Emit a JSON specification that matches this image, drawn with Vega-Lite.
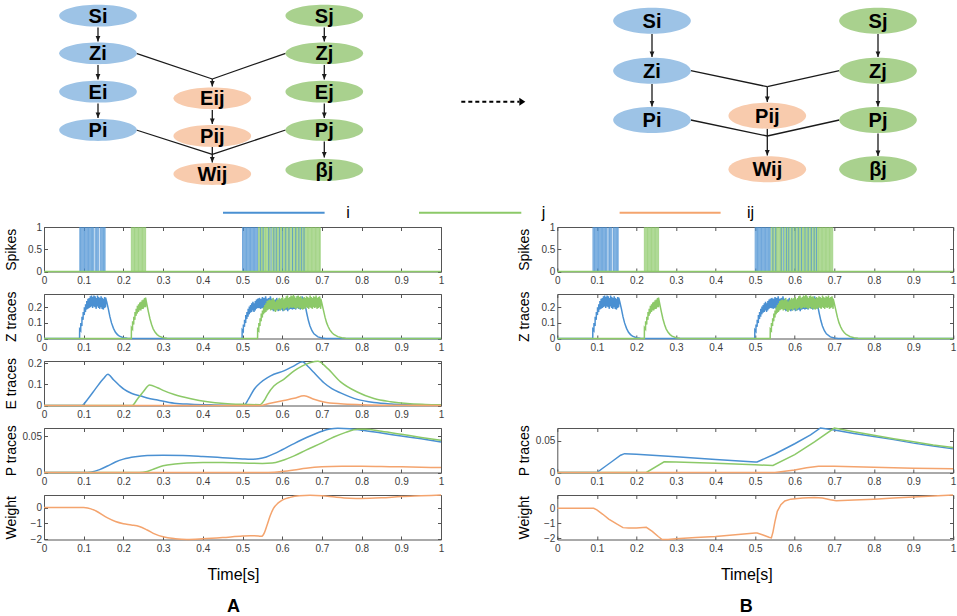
{
"$schema": "https://vega.github.io/schema/vega-lite/v6.json",
"padding": {"left": 3, "top": 0, "right": 0, "bottom": 0},
"columns": 2,
"bounds": "flush",
"spacing": {"row": 22, "column": 116.3},
"resolve": {"scale": {"color": "independent", "fill": "independent", "x": "independent", "y": "independent"}},
"config": {
  "font": "Liberation Sans",
  "view": {"stroke": "#555555", "strokeWidth": 1},
  "axis": {"domain": false, "grid": false, "tickSize": -3.5, "tickColor": "#555555", "tickWidth": 1, "labelFont": "Liberation Sans", "labelFontSize": 10, "labelColor": "#3c3c3c", "labelFlush": false, "labelOverlap": false, "titleFont": "Liberation Sans", "titleFontWeight": "normal", "titleColor": "#000000"},
  "axisLeft": {"labelPadding": 6, "titleFontSize": 14, "titleAngle": 270, "titleX": -39.7, "titleY": 22.25, "titleBaseline": "top", "titleAlign": "center"},
  "axisBottom": {"labelPadding": 7, "titleFontSize": 16, "titleX": 189, "titleY": 35, "titleBaseline": "middle", "titleAlign": "center"}
},
"datasets": {
  "spk": [
    {"t":0.220,"n":"j"},{"t":0.222,"n":"j"},{"t":0.224,"n":"j"},{"t":0.226,"n":"j"},{"t":0.228,"n":"j"},{"t":0.230,"n":"j"},{"t":0.232,"n":"j"},{"t":0.234,"n":"j"},{"t":0.236,"n":"j"},{"t":0.238,"n":"j"},{"t":0.240,"n":"j"},{"t":0.242,"n":"j"},{"t":0.244,"n":"j"},{"t":0.246,"n":"j"},{"t":0.248,"n":"j"},{"t":0.250,"n":"j"},{"t":0.252,"n":"j"},{"t":0.254,"n":"j"},{"t":0.256,"n":"j"},
    {"t":0.540,"n":"j"},{"t":0.542,"n":"j"},{"t":0.544,"n":"j"},{"t":0.546,"n":"j"},{"t":0.548,"n":"j"},{"t":0.550,"n":"j"},{"t":0.552,"n":"j"},{"t":0.554,"n":"j"},{"t":0.556,"n":"j"},{"t":0.558,"n":"j"},{"t":0.560,"n":"j"},{"t":0.562,"n":"j"},{"t":0.564,"n":"j"},{"t":0.566,"n":"j"},{"t":0.568,"n":"j"},{"t":0.570,"n":"j"},{"t":0.574,"n":"j"},{"t":0.576,"n":"j"},{"t":0.578,"n":"j"},{"t":0.580,"n":"j"},{"t":0.582,"n":"j"},{"t":0.584,"n":"j"},{"t":0.586,"n":"j"},{"t":0.588,"n":"j"},{"t":0.590,"n":"j"},{"t":0.592,"n":"j"},{"t":0.594,"n":"j"},{"t":0.596,"n":"j"},{"t":0.598,"n":"j"},{"t":0.600,"n":"j"},{"t":0.602,"n":"j"},{"t":0.604,"n":"j"},{"t":0.606,"n":"j"},{"t":0.608,"n":"j"},{"t":0.610,"n":"j"},{"t":0.612,"n":"j"},{"t":0.614,"n":"j"},{"t":0.616,"n":"j"},{"t":0.618,"n":"j"},{"t":0.620,"n":"j"},{"t":0.622,"n":"j"},{"t":0.624,"n":"j"},{"t":0.626,"n":"j"},{"t":0.628,"n":"j"},{"t":0.630,"n":"j"},{"t":0.632,"n":"j"},{"t":0.634,"n":"j"},{"t":0.636,"n":"j"},{"t":0.638,"n":"j"},{"t":0.640,"n":"j"},{"t":0.642,"n":"j"},{"t":0.644,"n":"j"},{"t":0.646,"n":"j"},{"t":0.648,"n":"j"},{"t":0.650,"n":"j"},{"t":0.652,"n":"j"},{"t":0.654,"n":"j"},{"t":0.656,"n":"j"},{"t":0.658,"n":"j"},{"t":0.660,"n":"j"},{"t":0.662,"n":"j"},{"t":0.664,"n":"j"},{"t":0.666,"n":"j"},{"t":0.668,"n":"j"},{"t":0.670,"n":"j"},{"t":0.672,"n":"j"},{"t":0.674,"n":"j"},{"t":0.676,"n":"j"},{"t":0.678,"n":"j"},{"t":0.680,"n":"j"},{"t":0.682,"n":"j"},{"t":0.684,"n":"j"},{"t":0.686,"n":"j"},{"t":0.688,"n":"j"},{"t":0.690,"n":"j"},{"t":0.692,"n":"j"},{"t":0.694,"n":"j"},{"t":0.696,"n":"j"},
    {"t":0.090,"n":"i"},{"t":0.092,"n":"i"},{"t":0.094,"n":"i"},{"t":0.096,"n":"i"},{"t":0.098,"n":"i"},{"t":0.100,"n":"i"},{"t":0.102,"n":"i"},{"t":0.104,"n":"i"},{"t":0.106,"n":"i"},{"t":0.108,"n":"i"},{"t":0.110,"n":"i"},{"t":0.112,"n":"i"},{"t":0.114,"n":"i"},{"t":0.116,"n":"i"},{"t":0.118,"n":"i"},{"t":0.120,"n":"i"},{"t":0.122,"n":"i"},{"t":0.124,"n":"i"},{"t":0.126,"n":"i"},{"t":0.130,"n":"i"},{"t":0.132,"n":"i"},{"t":0.134,"n":"i"},{"t":0.136,"n":"i"},{"t":0.138,"n":"i"},{"t":0.142,"n":"i"},{"t":0.144,"n":"i"},{"t":0.146,"n":"i"},{"t":0.148,"n":"i"},{"t":0.150,"n":"i"},{"t":0.152,"n":"i"},{"t":0.154,"n":"i"},
    {"t":0.500,"n":"i"},{"t":0.502,"n":"i"},{"t":0.504,"n":"i"},{"t":0.506,"n":"i"},{"t":0.508,"n":"i"},{"t":0.510,"n":"i"},{"t":0.512,"n":"i"},{"t":0.514,"n":"i"},{"t":0.516,"n":"i"},{"t":0.518,"n":"i"},{"t":0.520,"n":"i"},{"t":0.522,"n":"i"},{"t":0.524,"n":"i"},{"t":0.526,"n":"i"},{"t":0.528,"n":"i"},{"t":0.530,"n":"i"},{"t":0.532,"n":"i"},{"t":0.534,"n":"i"},{"t":0.536,"n":"i"},{"t":0.538,"n":"i"},{"t":0.545,"n":"i"},{"t":0.552,"n":"i"},{"t":0.566,"n":"i"},{"t":0.572,"n":"i"},{"t":0.579,"n":"i"},{"t":0.585,"n":"i"},{"t":0.593,"n":"i"},{"t":0.601,"n":"i"},{"t":0.609,"n":"i"},{"t":0.617,"n":"i"},{"t":0.626,"n":"i"},{"t":0.634,"n":"i"},{"t":0.642,"n":"i"},{"t":0.649,"n":"i"},{"t":0.655,"n":"i"}
  ],
  "z": [
    {"t":0,"v":0,"n":"i"},{"t":0.0894,"v":0,"n":"i"},
    {"t":0.0896,"v":0,"n":"i"},{"t":0.0898,"v":0.06,"n":"i"},
    {"t":0.0925,"v":0.05,"n":"i"},{"t":0.0927,"v":0.10,"n":"i"},
    {"t":0.0955,"v":0.08,"n":"i"},{"t":0.0957,"v":0.14,"n":"i"},
    {"t":0.0985,"v":0.12,"n":"i"},{"t":0.0987,"v":0.17,"n":"i"},
    {"t":0.1015,"v":0.15,"n":"i"},{"t":0.1017,"v":0.20,"n":"i"},
    {"t":0.1045,"v":0.17,"n":"i"},{"t":0.1047,"v":0.22,"n":"i"},
    {"t":0.1075,"v":0.185,"n":"i"},{"t":0.1077,"v":0.24,"n":"i"},
    {"t":0.1105,"v":0.19,"n":"i"},{"t":0.1107,"v":0.255,"n":"i"},
    {"t":0.1135,"v":0.195,"n":"i"},{"t":0.1137,"v":0.26,"n":"i"},
    {"t":0.1165,"v":0.2,"n":"i"},{"t":0.1167,"v":0.27,"n":"i"},
    {"t":0.1195,"v":0.205,"n":"i"},{"t":0.1197,"v":0.275,"n":"i"},
    {"t":0.1225,"v":0.195,"n":"i"},{"t":0.1227,"v":0.265,"n":"i"},
    {"t":0.1255,"v":0.205,"n":"i"},{"t":0.1257,"v":0.275,"n":"i"},
    {"t":0.1285,"v":0.2,"n":"i"},{"t":0.1287,"v":0.27,"n":"i"},
    {"t":0.1315,"v":0.19,"n":"i"},{"t":0.1317,"v":0.26,"n":"i"},
    {"t":0.1345,"v":0.205,"n":"i"},{"t":0.1347,"v":0.275,"n":"i"},
    {"t":0.1375,"v":0.195,"n":"i"},{"t":0.1377,"v":0.265,"n":"i"},
    {"t":0.1405,"v":0.19,"n":"i"},{"t":0.1407,"v":0.26,"n":"i"},
    {"t":0.1435,"v":0.2,"n":"i"},{"t":0.1437,"v":0.27,"n":"i"},
    {"t":0.1465,"v":0.19,"n":"i"},{"t":0.1467,"v":0.26,"n":"i"},
    {"t":0.1495,"v":0.185,"n":"i"},{"t":0.1497,"v":0.255,"n":"i"},
    {"t":0.1525,"v":0.195,"n":"i"},{"t":0.1527,"v":0.265,"n":"i"},
    {"t":0.1550,"v":0.2,"n":"i"},{"t":0.1552,"v":0.262,"n":"i"},
    {"t":0.158,"v":0.235,"n":"i"},{"t":0.162,"v":0.19,"n":"i"},{"t":0.166,"v":0.14,"n":"i"},{"t":0.17,"v":0.1,"n":"i"},{"t":0.175,"v":0.065,"n":"i"},{"t":0.18,"v":0.04,"n":"i"},{"t":0.185,"v":0.025,"n":"i"},{"t":0.19,"v":0.015,"n":"i"},{"t":0.2,"v":0.005,"n":"i"},{"t":0.21,"v":0.001,"n":"i"},{"t":0.22,"v":0,"n":"i"},{"t":0.4988,"v":0,"n":"i"},
    {"t":0.499,"v":0,"n":"i"},{"t":0.4992,"v":0.055,"n":"i"},
    {"t":0.502,"v":0.045,"n":"i"},{"t":0.5022,"v":0.09,"n":"i"},
    {"t":0.505,"v":0.075,"n":"i"},{"t":0.5052,"v":0.12,"n":"i"},
    {"t":0.508,"v":0.1,"n":"i"},{"t":0.5082,"v":0.15,"n":"i"},
    {"t":0.511,"v":0.125,"n":"i"},{"t":0.5112,"v":0.17,"n":"i"},
    {"t":0.514,"v":0.14,"n":"i"},{"t":0.5142,"v":0.19,"n":"i"},
    {"t":0.517,"v":0.155,"n":"i"},{"t":0.5172,"v":0.205,"n":"i"},
    {"t":0.52,"v":0.165,"n":"i"},{"t":0.5202,"v":0.215,"n":"i"},
    {"t":0.523,"v":0.17,"n":"i"},{"t":0.5232,"v":0.225,"n":"i"},
    {"t":0.526,"v":0.18,"n":"i"},{"t":0.5262,"v":0.235,"n":"i"},
    {"t":0.529,"v":0.17,"n":"i"},{"t":0.5292,"v":0.225,"n":"i"},
    {"t":0.532,"v":0.18,"n":"i"},{"t":0.5322,"v":0.24,"n":"i"},
    {"t":0.535,"v":0.19,"n":"i"},{"t":0.5352,"v":0.25,"n":"i"},
    {"t":0.538,"v":0.195,"n":"i"},{"t":0.5382,"v":0.255,"n":"i"},
    {"t":0.542,"v":0.195,"n":"i"},{"t":0.5422,"v":0.26,"n":"i"},
    {"t":0.546,"v":0.19,"n":"i"},{"t":0.5462,"v":0.255,"n":"i"},
    {"t":0.55,"v":0.195,"n":"i"},{"t":0.5502,"v":0.265,"n":"i"},
    {"t":0.554,"v":0.19,"n":"i"},{"t":0.5542,"v":0.26,"n":"i"},
    {"t":0.558,"v":0.195,"n":"i"},{"t":0.5582,"v":0.27,"n":"i"},
    {"t":0.562,"v":0.185,"n":"i"},{"t":0.5622,"v":0.255,"n":"i"},
    {"t":0.566,"v":0.19,"n":"i"},{"t":0.5662,"v":0.26,"n":"i"},
    {"t":0.57,"v":0.195,"n":"i"},{"t":0.5702,"v":0.27,"n":"i"},
    {"t":0.574,"v":0.185,"n":"i"},{"t":0.5742,"v":0.255,"n":"i"},
    {"t":0.578,"v":0.175,"n":"i"},{"t":0.5782,"v":0.245,"n":"i"},
    {"t":0.582,"v":0.18,"n":"i"},{"t":0.5822,"v":0.25,"n":"i"},
    {"t":0.586,"v":0.185,"n":"i"},{"t":0.5862,"v":0.26,"n":"i"},
    {"t":0.59,"v":0.175,"n":"i"},{"t":0.5902,"v":0.245,"n":"i"},
    {"t":0.594,"v":0.18,"n":"i"},{"t":0.5942,"v":0.25,"n":"i"},
    {"t":0.598,"v":0.185,"n":"i"},{"t":0.5982,"v":0.255,"n":"i"},
    {"t":0.602,"v":0.175,"n":"i"},{"t":0.6022,"v":0.24,"n":"i"},
    {"t":0.606,"v":0.18,"n":"i"},{"t":0.6062,"v":0.25,"n":"i"},
    {"t":0.61,"v":0.185,"n":"i"},{"t":0.6102,"v":0.26,"n":"i"},
    {"t":0.614,"v":0.175,"n":"i"},{"t":0.6142,"v":0.245,"n":"i"},
    {"t":0.618,"v":0.185,"n":"i"},{"t":0.6182,"v":0.255,"n":"i"},
    {"t":0.622,"v":0.19,"n":"i"},{"t":0.6222,"v":0.26,"n":"i"},
    {"t":0.626,"v":0.185,"n":"i"},{"t":0.6262,"v":0.25,"n":"i"},
    {"t":0.63,"v":0.19,"n":"i"},{"t":0.6302,"v":0.265,"n":"i"},
    {"t":0.634,"v":0.185,"n":"i"},{"t":0.6342,"v":0.255,"n":"i"},
    {"t":0.638,"v":0.195,"n":"i"},{"t":0.6382,"v":0.27,"n":"i"},
    {"t":0.642,"v":0.19,"n":"i"},{"t":0.6422,"v":0.26,"n":"i"},
    {"t":0.646,"v":0.185,"n":"i"},{"t":0.6462,"v":0.255,"n":"i"},
    {"t":0.65,"v":0.195,"n":"i"},{"t":0.6502,"v":0.27,"n":"i"},
    {"t":0.654,"v":0.19,"n":"i"},{"t":0.6542,"v":0.26,"n":"i"},
    {"t":0.658,"v":0.21,"n":"i"},{"t":0.662,"v":0.16,"n":"i"},{"t":0.666,"v":0.115,"n":"i"},{"t":0.67,"v":0.08,"n":"i"},{"t":0.675,"v":0.05,"n":"i"},{"t":0.68,"v":0.03,"n":"i"},{"t":0.69,"v":0.01,"n":"i"},{"t":0.7,"v":0.003,"n":"i"},{"t":0.71,"v":0,"n":"i"},{"t":1,"v":0,"n":"i"},
    {"t":0,"v":0,"n":"j"},{"t":0.2198,"v":0,"n":"j"},
    {"t":0.22,"v":0,"n":"j"},{"t":0.2202,"v":0.07,"n":"j"},
    {"t":0.223,"v":0.06,"n":"j"},{"t":0.2232,"v":0.11,"n":"j"},
    {"t":0.226,"v":0.09,"n":"j"},{"t":0.2262,"v":0.14,"n":"j"},
    {"t":0.229,"v":0.12,"n":"j"},{"t":0.2292,"v":0.17,"n":"j"},
    {"t":0.232,"v":0.145,"n":"j"},{"t":0.2322,"v":0.19,"n":"j"},
    {"t":0.235,"v":0.16,"n":"j"},{"t":0.2352,"v":0.21,"n":"j"},
    {"t":0.238,"v":0.17,"n":"j"},{"t":0.2382,"v":0.22,"n":"j"},
    {"t":0.241,"v":0.18,"n":"j"},{"t":0.2412,"v":0.23,"n":"j"},
    {"t":0.244,"v":0.18,"n":"j"},{"t":0.2442,"v":0.235,"n":"j"},
    {"t":0.247,"v":0.19,"n":"j"},{"t":0.2472,"v":0.245,"n":"j"},
    {"t":0.25,"v":0.19,"n":"j"},{"t":0.2502,"v":0.25,"n":"j"},
    {"t":0.253,"v":0.2,"n":"j"},{"t":0.2532,"v":0.26,"n":"j"},
    {"t":0.2556,"v":0.2,"n":"j"},{"t":0.2558,"v":0.262,"n":"j"},
    {"t":0.259,"v":0.22,"n":"j"},{"t":0.263,"v":0.17,"n":"j"},{"t":0.267,"v":0.125,"n":"j"},{"t":0.271,"v":0.09,"n":"j"},{"t":0.275,"v":0.062,"n":"j"},{"t":0.28,"v":0.04,"n":"j"},{"t":0.285,"v":0.025,"n":"j"},{"t":0.29,"v":0.015,"n":"j"},{"t":0.3,"v":0.005,"n":"j"},{"t":0.31,"v":0.001,"n":"j"},{"t":0.32,"v":0,"n":"j"},{"t":0.5378,"v":0,"n":"j"},
    {"t":0.538,"v":0,"n":"j"},{"t":0.5382,"v":0.06,"n":"j"},
    {"t":0.541,"v":0.05,"n":"j"},{"t":0.5412,"v":0.1,"n":"j"},
    {"t":0.544,"v":0.08,"n":"j"},{"t":0.5442,"v":0.13,"n":"j"},
    {"t":0.547,"v":0.11,"n":"j"},{"t":0.5472,"v":0.16,"n":"j"},
    {"t":0.55,"v":0.135,"n":"j"},{"t":0.5502,"v":0.18,"n":"j"},
    {"t":0.553,"v":0.155,"n":"j"},{"t":0.5532,"v":0.2,"n":"j"},
    {"t":0.556,"v":0.165,"n":"j"},{"t":0.5562,"v":0.215,"n":"j"},
    {"t":0.559,"v":0.17,"n":"j"},{"t":0.5592,"v":0.225,"n":"j"},
    {"t":0.562,"v":0.18,"n":"j"},{"t":0.5622,"v":0.24,"n":"j"},
    {"t":0.565,"v":0.185,"n":"j"},{"t":0.5652,"v":0.245,"n":"j"},
    {"t":0.568,"v":0.19,"n":"j"},{"t":0.5682,"v":0.25,"n":"j"},
    {"t":0.571,"v":0.18,"n":"j"},{"t":0.5712,"v":0.245,"n":"j"},
    {"t":0.574,"v":0.185,"n":"j"},{"t":0.5742,"v":0.25,"n":"j"},
    {"t":0.577,"v":0.19,"n":"j"},{"t":0.5772,"v":0.26,"n":"j"},
    {"t":0.58,"v":0.18,"n":"j"},{"t":0.5802,"v":0.245,"n":"j"},
    {"t":0.583,"v":0.17,"n":"j"},{"t":0.5832,"v":0.235,"n":"j"},
    {"t":0.586,"v":0.18,"n":"j"},{"t":0.5862,"v":0.245,"n":"j"},
    {"t":0.589,"v":0.185,"n":"j"},{"t":0.5892,"v":0.25,"n":"j"},
    {"t":0.592,"v":0.19,"n":"j"},{"t":0.5922,"v":0.26,"n":"j"},
    {"t":0.595,"v":0.18,"n":"j"},{"t":0.5952,"v":0.25,"n":"j"},
    {"t":0.598,"v":0.19,"n":"j"},{"t":0.5982,"v":0.26,"n":"j"},
    {"t":0.601,"v":0.195,"n":"j"},{"t":0.6012,"v":0.265,"n":"j"},
    {"t":0.604,"v":0.18,"n":"j"},{"t":0.6042,"v":0.25,"n":"j"},
    {"t":0.607,"v":0.19,"n":"j"},{"t":0.6072,"v":0.26,"n":"j"},
    {"t":0.61,"v":0.195,"n":"j"},{"t":0.6102,"v":0.27,"n":"j"},
    {"t":0.613,"v":0.2,"n":"j"},{"t":0.6132,"v":0.275,"n":"j"},
    {"t":0.616,"v":0.19,"n":"j"},{"t":0.6162,"v":0.26,"n":"j"},
    {"t":0.619,"v":0.195,"n":"j"},{"t":0.6192,"v":0.265,"n":"j"},
    {"t":0.622,"v":0.2,"n":"j"},{"t":0.6222,"v":0.275,"n":"j"},
    {"t":0.625,"v":0.195,"n":"j"},{"t":0.6252,"v":0.27,"n":"j"},
    {"t":0.628,"v":0.2,"n":"j"},{"t":0.6282,"v":0.28,"n":"j"},
    {"t":0.631,"v":0.195,"n":"j"},{"t":0.6312,"v":0.27,"n":"j"},
    {"t":0.634,"v":0.19,"n":"j"},{"t":0.6342,"v":0.26,"n":"j"},
    {"t":0.637,"v":0.195,"n":"j"},{"t":0.6372,"v":0.27,"n":"j"},
    {"t":0.64,"v":0.2,"n":"j"},{"t":0.6402,"v":0.275,"n":"j"},
    {"t":0.643,"v":0.19,"n":"j"},{"t":0.6432,"v":0.265,"n":"j"},
    {"t":0.646,"v":0.195,"n":"j"},{"t":0.6462,"v":0.27,"n":"j"},
    {"t":0.649,"v":0.19,"n":"j"},{"t":0.6492,"v":0.26,"n":"j"},
    {"t":0.652,"v":0.185,"n":"j"},{"t":0.6522,"v":0.255,"n":"j"},
    {"t":0.655,"v":0.195,"n":"j"},{"t":0.6552,"v":0.265,"n":"j"},
    {"t":0.658,"v":0.19,"n":"j"},{"t":0.6582,"v":0.26,"n":"j"},
    {"t":0.661,"v":0.2,"n":"j"},{"t":0.6612,"v":0.27,"n":"j"},
    {"t":0.664,"v":0.195,"n":"j"},{"t":0.6642,"v":0.265,"n":"j"},
    {"t":0.667,"v":0.19,"n":"j"},{"t":0.6672,"v":0.26,"n":"j"},
    {"t":0.67,"v":0.2,"n":"j"},{"t":0.6702,"v":0.275,"n":"j"},
    {"t":0.673,"v":0.195,"n":"j"},{"t":0.6732,"v":0.265,"n":"j"},
    {"t":0.676,"v":0.19,"n":"j"},{"t":0.6762,"v":0.26,"n":"j"},
    {"t":0.679,"v":0.2,"n":"j"},{"t":0.6792,"v":0.27,"n":"j"},
    {"t":0.682,"v":0.195,"n":"j"},{"t":0.6822,"v":0.265,"n":"j"},
    {"t":0.685,"v":0.2,"n":"j"},{"t":0.6852,"v":0.275,"n":"j"},
    {"t":0.688,"v":0.19,"n":"j"},{"t":0.6882,"v":0.26,"n":"j"},
    {"t":0.691,"v":0.195,"n":"j"},{"t":0.6912,"v":0.265,"n":"j"},
    {"t":0.694,"v":0.2,"n":"j"},{"t":0.6942,"v":0.27,"n":"j"},
    {"t":0.697,"v":0.19,"n":"j"},{"t":0.6972,"v":0.255,"n":"j"},
    {"t":0.7,"v":0.225,"n":"j"},{"t":0.704,"v":0.18,"n":"j"},{"t":0.708,"v":0.135,"n":"j"},{"t":0.712,"v":0.1,"n":"j"},{"t":0.716,"v":0.075,"n":"j"},{"t":0.72,"v":0.055,"n":"j"},{"t":0.725,"v":0.038,"n":"j"},{"t":0.73,"v":0.026,"n":"j"},{"t":0.74,"v":0.012,"n":"j"},{"t":0.75,"v":0.005,"n":"j"},{"t":0.76,"v":0.002,"n":"j"},{"t":0.77,"v":0,"n":"j"},{"t":1,"v":0,"n":"j"}
  ],
  "eA": [
    {"t":0,"v":0,"n":"i"},{"t":0.095,"v":0,"n":"i"},{"t":0.11,"v":0.03,"n":"i"},{"t":0.13,"v":0.08,"n":"i"},{"t":0.15,"v":0.128,"n":"i"},{"t":0.161,"v":0.148,"n":"i"},{"t":0.175,"v":0.122,"n":"i"},{"t":0.19,"v":0.095,"n":"i"},{"t":0.202,"v":0.076,"n":"i"},{"t":0.22,"v":0.058,"n":"i"},{"t":0.244,"v":0.045,"n":"i"},{"t":0.26,"v":0.036,"n":"i"},{"t":0.286,"v":0.026,"n":"i"},{"t":0.328,"v":0.011,"n":"i"},{"t":0.37,"v":0.006,"n":"i"},{"t":0.42,"v":0.003,"n":"i"},{"t":0.46,"v":0.0015,"n":"i"},{"t":0.504,"v":0.001,"n":"i"},{"t":0.515,"v":0.03,"n":"i"},{"t":0.529,"v":0.076,"n":"i"},{"t":0.545,"v":0.108,"n":"i"},{"t":0.563,"v":0.132,"n":"i"},{"t":0.579,"v":0.148,"n":"i"},{"t":0.604,"v":0.164,"n":"i"},{"t":0.63,"v":0.188,"n":"i"},{"t":0.651,"v":0.207,"n":"i"},{"t":0.665,"v":0.185,"n":"i"},{"t":0.68,"v":0.156,"n":"i"},{"t":0.705,"v":0.108,"n":"i"},{"t":0.725,"v":0.08,"n":"i"},{"t":0.747,"v":0.06,"n":"i"},{"t":0.789,"v":0.029,"n":"i"},{"t":0.831,"v":0.014,"n":"i"},{"t":0.875,"v":0.007,"n":"i"},{"t":0.915,"v":0.004,"n":"i"},{"t":0.96,"v":0.002,"n":"i"},{"t":1,"v":0.001,"n":"i"},
    {"t":0,"v":0,"n":"j"},{"t":0.222,"v":0,"n":"j"},{"t":0.235,"v":0.03,"n":"j"},{"t":0.25,"v":0.065,"n":"j"},{"t":0.266,"v":0.097,"n":"j"},{"t":0.286,"v":0.084,"n":"j"},{"t":0.3,"v":0.072,"n":"j"},{"t":0.328,"v":0.052,"n":"j"},{"t":0.37,"v":0.032,"n":"j"},{"t":0.412,"v":0.018,"n":"j"},{"t":0.454,"v":0.01,"n":"j"},{"t":0.496,"v":0.006,"n":"j"},{"t":0.544,"v":0.004,"n":"j"},{"t":0.555,"v":0.025,"n":"j"},{"t":0.563,"v":0.052,"n":"j"},{"t":0.579,"v":0.092,"n":"j"},{"t":0.604,"v":0.124,"n":"j"},{"t":0.63,"v":0.164,"n":"j"},{"t":0.651,"v":0.188,"n":"j"},{"t":0.672,"v":0.204,"n":"j"},{"t":0.69,"v":0.21,"n":"j"},{"t":0.714,"v":0.176,"n":"j"},{"t":0.747,"v":0.112,"n":"j"},{"t":0.789,"v":0.064,"n":"j"},{"t":0.831,"v":0.033,"n":"j"},{"t":0.873,"v":0.018,"n":"j"},{"t":0.915,"v":0.009,"n":"j"},{"t":0.96,"v":0.005,"n":"j"},{"t":1,"v":0.003,"n":"j"},
    {"t":0,"v":0,"n":"ij"},{"t":0.547,"v":0,"n":"ij"},{"t":0.56,"v":0.006,"n":"ij"},{"t":0.579,"v":0.014,"n":"ij"},{"t":0.604,"v":0.024,"n":"ij"},{"t":0.63,"v":0.034,"n":"ij"},{"t":0.655,"v":0.046,"n":"ij"},{"t":0.68,"v":0.03,"n":"ij"},{"t":0.705,"v":0.017,"n":"ij"},{"t":0.747,"v":0.008,"n":"ij"},{"t":0.8,"v":0.004,"n":"ij"},{"t":0.9,"v":0.001,"n":"ij"},{"t":1,"v":0,"n":"ij"}
  ],
  "pA": [
    {"t":0,"v":0,"n":"i"},{"t":0.1,"v":0,"n":"i"},{"t":0.12,"v":0.0008,"n":"i"},{"t":0.14,"v":0.004,"n":"i"},{"t":0.16,"v":0.009,"n":"i"},{"t":0.18,"v":0.0145,"n":"i"},{"t":0.2,"v":0.0185,"n":"i"},{"t":0.23,"v":0.0218,"n":"i"},{"t":0.26,"v":0.0235,"n":"i"},{"t":0.3,"v":0.024,"n":"i"},{"t":0.35,"v":0.0236,"n":"i"},{"t":0.4,"v":0.0222,"n":"i"},{"t":0.45,"v":0.0205,"n":"i"},{"t":0.5,"v":0.0188,"n":"i"},{"t":0.52,"v":0.0182,"n":"i"},{"t":0.54,"v":0.019,"n":"i"},{"t":0.56,"v":0.0215,"n":"i"},{"t":0.58,"v":0.026,"n":"i"},{"t":0.6,"v":0.0315,"n":"i"},{"t":0.63,"v":0.04,"n":"i"},{"t":0.66,"v":0.048,"n":"i"},{"t":0.7,"v":0.057,"n":"i"},{"t":0.72,"v":0.06,"n":"i"},{"t":0.74,"v":0.0612,"n":"i"},{"t":0.77,"v":0.0605,"n":"i"},{"t":0.8,"v":0.0585,"n":"i"},{"t":0.85,"v":0.0545,"n":"i"},{"t":0.9,"v":0.0505,"n":"i"},{"t":0.95,"v":0.0465,"n":"i"},{"t":1,"v":0.042,"n":"i"},
    {"t":0,"v":0,"n":"j"},{"t":0.24,"v":0,"n":"j"},{"t":0.26,"v":0.0015,"n":"j"},{"t":0.28,"v":0.0055,"n":"j"},{"t":0.3,"v":0.0092,"n":"j"},{"t":0.33,"v":0.0118,"n":"j"},{"t":0.36,"v":0.0132,"n":"j"},{"t":0.4,"v":0.0138,"n":"j"},{"t":0.45,"v":0.0137,"n":"j"},{"t":0.5,"v":0.0131,"n":"j"},{"t":0.55,"v":0.0125,"n":"j"},{"t":0.575,"v":0.013,"n":"j"},{"t":0.6,"v":0.0165,"n":"j"},{"t":0.63,"v":0.023,"n":"j"},{"t":0.66,"v":0.031,"n":"j"},{"t":0.7,"v":0.041,"n":"j"},{"t":0.73,"v":0.049,"n":"j"},{"t":0.76,"v":0.0555,"n":"j"},{"t":0.79,"v":0.0598,"n":"j"},{"t":0.81,"v":0.0598,"n":"j"},{"t":0.85,"v":0.057,"n":"j"},{"t":0.9,"v":0.0528,"n":"j"},{"t":0.95,"v":0.0485,"n":"j"},{"t":1,"v":0.0445,"n":"j"},
    {"t":0,"v":0,"n":"ij"},{"t":0.55,"v":0,"n":"ij"},{"t":0.58,"v":0.0005,"n":"ij"},{"t":0.6,"v":0.0015,"n":"ij"},{"t":0.63,"v":0.0035,"n":"ij"},{"t":0.66,"v":0.0058,"n":"ij"},{"t":0.7,"v":0.0078,"n":"ij"},{"t":0.75,"v":0.0086,"n":"ij"},{"t":0.8,"v":0.0087,"n":"ij"},{"t":0.85,"v":0.0083,"n":"ij"},{"t":0.9,"v":0.0078,"n":"ij"},{"t":0.95,"v":0.0073,"n":"ij"},{"t":1,"v":0.0068,"n":"ij"}
  ],
  "wA": [
    {"t":0,"v":0},{"t":0.1,"v":0},{"t":0.11,"v":-0.02},{"t":0.13,"v":-0.2},{"t":0.16,"v":-0.65},{"t":0.18,"v":-0.88},{"t":0.2,"v":-1.02},{"t":0.22,"v":-1.1},{"t":0.24,"v":-1.2},{"t":0.26,"v":-1.42},{"t":0.28,"v":-1.68},{"t":0.3,"v":-1.85},{"t":0.33,"v":-1.97},{"t":0.36,"v":-2.02},{"t":0.4,"v":-1.98},{"t":0.45,"v":-1.9},{"t":0.5,"v":-1.8},{"t":0.52,"v":-1.78},{"t":0.54,"v":-1.8},{"t":0.548,"v":-1.82},{"t":0.555,"v":-1.6},{"t":0.562,"v":-1.1},{"t":0.57,"v":-0.5},{"t":0.578,"v":-0.05},{"t":0.59,"v":0.3},{"t":0.6,"v":0.48},{"t":0.62,"v":0.65},{"t":0.643,"v":0.75},{"t":0.67,"v":0.78},{"t":0.7,"v":0.75},{"t":0.733,"v":0.67},{"t":0.77,"v":0.6},{"t":0.8,"v":0.58},{"t":0.85,"v":0.62},{"t":0.9,"v":0.7},{"t":0.95,"v":0.75},{"t":1,"v":0.8}
  ],
  "pB": [
    {"t":0,"v":0,"n":"i"},{"t":0.1,"v":0,"n":"i"},{"t":0.12,"v":0.009,"n":"i"},{"t":0.14,"v":0.018,"n":"i"},{"t":0.16,"v":0.027,"n":"i"},{"t":0.17,"v":0.0295,"n":"i"},{"t":0.2,"v":0.0285,"n":"i"},{"t":0.3,"v":0.0245,"n":"i"},{"t":0.4,"v":0.0205,"n":"i"},{"t":0.5,"v":0.0165,"n":"i"},{"t":0.505,"v":0.0165,"n":"i"},{"t":0.55,"v":0.029,"n":"i"},{"t":0.6,"v":0.045,"n":"i"},{"t":0.64,"v":0.059,"n":"i"},{"t":0.665,"v":0.0697,"n":"i"},{"t":0.7,"v":0.0665,"n":"i"},{"t":0.75,"v":0.061,"n":"i"},{"t":0.8,"v":0.0565,"n":"i"},{"t":0.85,"v":0.0515,"n":"i"},{"t":0.9,"v":0.046,"n":"i"},{"t":0.95,"v":0.0415,"n":"i"},{"t":1,"v":0.037,"n":"i"},
    {"t":0,"v":0,"n":"j"},{"t":0.225,"v":0,"n":"j"},{"t":0.27,"v":0.0167,"n":"j"},{"t":0.3,"v":0.0165,"n":"j"},{"t":0.4,"v":0.0145,"n":"j"},{"t":0.5,"v":0.012,"n":"j"},{"t":0.545,"v":0.011,"n":"j"},{"t":0.6,"v":0.028,"n":"j"},{"t":0.65,"v":0.048,"n":"j"},{"t":0.7,"v":0.0695,"n":"j"},{"t":0.75,"v":0.064,"n":"j"},{"t":0.8,"v":0.0585,"n":"j"},{"t":0.85,"v":0.053,"n":"j"},{"t":0.9,"v":0.048,"n":"j"},{"t":0.95,"v":0.043,"n":"j"},{"t":1,"v":0.039,"n":"j"},
    {"t":0,"v":0,"n":"ij"},{"t":0.55,"v":0,"n":"ij"},{"t":0.6,"v":0.004,"n":"ij"},{"t":0.63,"v":0.0075,"n":"ij"},{"t":0.66,"v":0.0098,"n":"ij"},{"t":0.7,"v":0.0097,"n":"ij"},{"t":0.75,"v":0.009,"n":"ij"},{"t":0.8,"v":0.0083,"n":"ij"},{"t":0.85,"v":0.0075,"n":"ij"},{"t":0.9,"v":0.0068,"n":"ij"},{"t":0.95,"v":0.0062,"n":"ij"},{"t":1,"v":0.0057,"n":"ij"}
  ],
  "wB": [
    {"t":0,"v":0},{"t":0.092,"v":0},{"t":0.1,"v":-0.1},{"t":0.115,"v":-0.4},{"t":0.13,"v":-0.72},{"t":0.15,"v":-1.05},{"t":0.166,"v":-1.3},{"t":0.18,"v":-1.33},{"t":0.2,"v":-1.32},{"t":0.225,"v":-1.28},{"t":0.24,"v":-1.55},{"t":0.255,"v":-1.9},{"t":0.265,"v":-2.1},{"t":0.28,"v":-2.1},{"t":0.3,"v":-2.05},{"t":0.35,"v":-1.97},{"t":0.4,"v":-1.89},{"t":0.45,"v":-1.78},{"t":0.5,"v":-1.67},{"t":0.505,"v":-1.67},{"t":0.52,"v":-1.8},{"t":0.535,"v":-1.95},{"t":0.541,"v":-1.99},{"t":0.545,"v":-1.6},{"t":0.55,"v":-0.9},{"t":0.556,"v":-0.2},{"t":0.565,"v":0.25},{"t":0.575,"v":0.5},{"t":0.59,"v":0.62},{"t":0.62,"v":0.7},{"t":0.65,"v":0.73},{"t":0.67,"v":0.7},{"t":0.69,"v":0.58},{"t":0.705,"v":0.52},{"t":0.75,"v":0.56},{"t":0.8,"v":0.62},{"t":0.85,"v":0.69},{"t":0.9,"v":0.76},{"t":0.95,"v":0.83},{"t":1,"v":0.9}
  ],
  "nodesA": [
    {"x":54,"y":15.7,"l":"Si","g":"i"},{"x":54,"y":53.3,"l":"Zi","g":"i"},{"x":54,"y":91.7,"l":"Ei","g":"i"},{"x":54,"y":130,"l":"Pi","g":"i"},
    {"x":168.3,"y":98.3,"l":"Eij","g":"ij"},{"x":168.3,"y":136,"l":"Pij","g":"ij"},{"x":168.3,"y":174,"l":"Wij","g":"ij"},
    {"x":280.3,"y":15.7,"l":"Sj","g":"j"},{"x":280.3,"y":53.3,"l":"Zj","g":"j"},{"x":280.3,"y":91.7,"l":"Ej","g":"j"},{"x":280.3,"y":130,"l":"Pj","g":"j"},{"x":280.3,"y":170,"l":"βj","g":"j"}
  ],
  "edgesA": [
    {"x":92.3,"y":53.3,"x2":168.3,"y2":79},{"x":241.6,"y":53.3,"x2":168.3,"y2":79},{"x":92.3,"y":130,"x2":168.3,"y2":154.3},{"x":241.6,"y":130,"x2":168.3,"y2":154.3},
    {"x":54,"y":27.5,"x2":54,"y2":41.5},{"x":54,"y":65,"x2":54,"y2":79.5},{"x":54,"y":103.5,"x2":54,"y2":118},{"x":168.3,"y":110,"x2":168.3,"y2":124},{"x":168.3,"y":147,"x2":168.3,"y2":162.5},{"x":168.3,"y":79,"x2":168.3,"y2":86.5},
    {"x":280.3,"y":27.5,"x2":280.3,"y2":41.5},{"x":280.3,"y":65,"x2":280.3,"y2":79.5},{"x":280.3,"y":103.5,"x2":280.3,"y2":118},{"x":280.3,"y":141.5,"x2":280.3,"y2":157.5}
  ],
  "headsA": [
    {"x":54,"y":41.5},{"x":54,"y":79.5},{"x":54,"y":118},{"x":168.3,"y":124},{"x":168.3,"y":162.5},{"x":168.3,"y":86.5},{"x":280.3,"y":41.5},{"x":280.3,"y":79.5},{"x":280.3,"y":118},{"x":280.3,"y":157.5}
  ],
  "legLines": [
    {"x":179,"x2":280.6,"y":212.7,"n":"i"},{"x":375,"x2":477.3,"y":212.7,"n":"j"},{"x":575.6,"x2":676.6,"y":212.7,"n":"ij"}
  ],
  "legText": [
    {"x":304,"y":212.7,"n":"i"},{"x":499.6,"y":212.7,"n":"j"},{"x":706.6,"y":212.7,"n":"ij"}
  ],
  "nodesB": [
    {"x":94.7,"y":20.7,"l":"Si","g":"i"},{"x":94.7,"y":70.7,"l":"Zi","g":"i"},{"x":94.7,"y":120,"l":"Pi","g":"i"},
    {"x":210,"y":115.7,"l":"Pij","g":"ij"},{"x":210,"y":169.3,"l":"Wij","g":"ij"},
    {"x":320.7,"y":20.7,"l":"Sj","g":"j"},{"x":320.7,"y":70.7,"l":"Zj","g":"j"},{"x":320.7,"y":120,"l":"Pj","g":"j"},{"x":320.7,"y":169.3,"l":"βj","g":"j"}
  ],
  "edgesB": [
    {"x":133.5,"y":70.7,"x2":210,"y2":86.7},{"x":282,"y":70.7,"x2":210,"y2":86.7},{"x":133.5,"y":120,"x2":210,"y2":136},{"x":282,"y":120,"x2":210,"y2":136},
    {"x":94.7,"y":34,"x2":94.7,"y2":57},{"x":94.7,"y":84,"x2":94.7,"y2":106.5},{"x":210,"y":86.7,"x2":210,"y2":102},{"x":210,"y":128.7,"x2":210,"y2":155.5},
    {"x":320.7,"y":34,"x2":320.7,"y2":57},{"x":320.7,"y":84,"x2":320.7,"y2":106.5},{"x":320.7,"y":133.5,"x2":320.7,"y2":156}
  ],
  "headsB": [
    {"x":94.7,"y":57},{"x":94.7,"y":106.5},{"x":210,"y":102},{"x":210,"y":155.5},{"x":320.7,"y":57},{"x":320.7,"y":106.5},{"x":320.7,"y":156}
  ],
  "dash": [{"x":-96,"y":101.7,"x2":-38,"y2":101.7}],
  "dashHead": [{"x":-32,"y":101.7}]
},
"concat": [
  {
    "width": 397, "height": 204.7, "view": {"stroke": null},
    "encoding": {
      "x": {"field": "x", "type": "quantitative", "scale": {"domain": [0, 397], "nice": false, "zero": false}, "axis": null},
      "y": {"field": "y", "type": "quantitative", "scale": {"domain": [0, 204.7], "nice": false, "zero": false, "reverse": true}, "axis": null}
    },
    "layer": [
      {"data": {"name": "edgesA"}, "mark": {"type": "rule", "color": "#1a1a1a", "strokeWidth": 1.3}, "encoding": {"x2": {"field": "x2"}, "y2": {"field": "y2"}}},
      {"data": {"name": "headsA"}, "mark": {"type": "point", "shape": "M0,0L-0.8,-1.8L0.8,-1.8Z", "filled": true, "color": "#1a1a1a", "size": 36, "opacity": 1, "strokeWidth": 0}},
      {"data": {"name": "nodesA"}, "mark": {"type": "point", "shape": "M-1,0A1,0.28,0,1,0,1,0A1,0.28,0,1,0,-1,0Z", "filled": true, "size": 6035, "opacity": 1, "strokeWidth": 0},
       "encoding": {"fill": {"field": "g", "type": "nominal", "scale": {"domain": ["i", "j", "ij"], "range": ["#9dc3e6", "#a9d18e", "#f8cbad"]}, "legend": null}}},
      {"data": {"name": "nodesA"}, "mark": {"type": "text", "fontSize": 20, "fontWeight": "bold", "color": "#000000", "font": "Liberation Sans", "baseline": "middle", "dy": 1}, "encoding": {"text": {"field": "l"}}},
      {"data": {"name": "legLines"}, "mark": {"type": "rule", "strokeWidth": 2}, "encoding": {"x2": {"field": "x2"}, "color": {"field": "n", "type": "nominal", "scale": {"domain": ["i", "j", "ij"], "range": ["#4a90d2", "#8cc968", "#f4a46e"]}, "legend": null}}},
      {"data": {"name": "legText"}, "mark": {"type": "text", "fontSize": 16, "color": "#000000", "font": "Liberation Sans", "align": "center", "baseline": "middle"}, "encoding": {"text": {"field": "n"}}}
    ]
  },
  {
    "width": 395.7, "height": 204.7, "view": {"stroke": null},
    "encoding": {
      "x": {"field": "x", "type": "quantitative", "scale": {"domain": [0, 395.7], "nice": false, "zero": false}, "axis": null},
      "y": {"field": "y", "type": "quantitative", "scale": {"domain": [0, 204.7], "nice": false, "zero": false, "reverse": true}, "axis": null}
    },
    "layer": [
      {"data": {"name": "edgesB"}, "mark": {"type": "rule", "color": "#1a1a1a", "strokeWidth": 1.3}, "encoding": {"x2": {"field": "x2"}, "y2": {"field": "y2"}}},
      {"data": {"name": "headsB"}, "mark": {"type": "point", "shape": "M0,0L-0.8,-1.8L0.8,-1.8Z", "filled": true, "color": "#1a1a1a", "size": 36, "opacity": 1, "strokeWidth": 0}},
      {"data": {"name": "dash"}, "mark": {"type": "rule", "color": "#000000", "strokeWidth": 2, "strokeDash": [4, 3]}, "encoding": {"x2": {"field": "x2"}, "y2": {"field": "y2"}}},
      {"data": {"name": "dashHead"}, "mark": {"type": "point", "shape": "M0,0L-1.5,-1L-1.5,1Z", "filled": true, "color": "#000000", "size": 64, "opacity": 1, "strokeWidth": 0}},
      {"data": {"name": "nodesB"}, "mark": {"type": "point", "shape": "M-1,0A1,0.335,0,1,0,1,0A1,0.335,0,1,0,-1,0Z", "filled": true, "size": 6035, "opacity": 1, "strokeWidth": 0},
       "encoding": {"fill": {"field": "g", "type": "nominal", "scale": {"domain": ["i", "j", "ij"], "range": ["#9dc3e6", "#a9d18e", "#f8cbad"]}, "legend": null}}},
      {"data": {"name": "nodesB"}, "mark": {"type": "text", "fontSize": 20, "fontWeight": "bold", "color": "#000000", "font": "Liberation Sans", "baseline": "middle", "dy": 1}, "encoding": {"text": {"field": "l"}}}
    ]
  },
  {
    "width": 397, "height": 44.5,
    "layer": [
      {"data": {"name": "spk"}, "mark": {"type": "rule", "strokeWidth": 1, "opacity": 0.72},
       "encoding": {
         "x": {"field": "t", "type": "quantitative", "scale": {"domain": [0, 1], "nice": false}, "axis": {"values": [0, 0.1, 0.2, 0.3, 0.4, 0.5, 0.6, 0.7, 0.8, 0.9, 1], "format": "~g", "title": null}},
         "y": {"datum": 0, "type": "quantitative", "scale": {"domain": [0, 1], "nice": false}, "axis": {"values": [0, 0.5, 1], "format": "~g", "title": "Spikes"}},
         "y2": {"datum": 1},
         "color": {"field": "n", "type": "nominal", "scale": {"domain": ["i", "j", "ij"], "range": ["#4a90d2", "#8cc968", "#f4a46e"]}, "legend": null}
       }},
      {"data": {"values": [{}]}, "mark": {"type": "rule", "color": "#8cc968", "strokeWidth": 1.5},
       "encoding": {"x": {"datum": 0, "type": "quantitative", "axis": null}, "x2": {"datum": 1}, "y": {"datum": 0, "type": "quantitative", "axis": null}}},
      {"data": {"values": [{}]}, "mark": {"type": "point", "opacity": 0},
       "encoding": {"x": {"datum": 0, "type": "quantitative", "axis": {"orient": "top", "labels": false, "title": null, "values": [0, 0.1, 0.2, 0.3, 0.4, 0.5, 0.6, 0.7, 0.8, 0.9, 1]}},
                    "y": {"datum": 0, "type": "quantitative", "axis": {"orient": "right", "labels": false, "title": null, "values": [0, 0.5, 1]}}}}
    ],
    "resolve": {"axis": {"x": "independent", "y": "independent"}}
  },
  {
    "width": 395.7, "height": 44.5,
    "layer": [
      {"data": {"name": "spk"}, "mark": {"type": "rule", "strokeWidth": 1, "opacity": 0.72},
       "encoding": {
         "x": {"field": "t", "type": "quantitative", "scale": {"domain": [0, 1], "nice": false}, "axis": {"values": [0, 0.1, 0.2, 0.3, 0.4, 0.5, 0.6, 0.7, 0.8, 0.9, 1], "format": "~g", "title": null}},
         "y": {"datum": 0, "type": "quantitative", "scale": {"domain": [0, 1], "nice": false}, "axis": {"values": [0, 0.5, 1], "format": "~g", "title": "Spikes"}},
         "y2": {"datum": 1},
         "color": {"field": "n", "type": "nominal", "scale": {"domain": ["i", "j", "ij"], "range": ["#4a90d2", "#8cc968", "#f4a46e"]}, "legend": null}
       }},
      {"data": {"values": [{}]}, "mark": {"type": "rule", "color": "#8cc968", "strokeWidth": 1.5},
       "encoding": {"x": {"datum": 0, "type": "quantitative", "axis": null}, "x2": {"datum": 1}, "y": {"datum": 0, "type": "quantitative", "axis": null}}},
      {"data": {"values": [{}]}, "mark": {"type": "point", "opacity": 0},
       "encoding": {"x": {"datum": 0, "type": "quantitative", "axis": {"orient": "top", "labels": false, "title": null, "values": [0, 0.1, 0.2, 0.3, 0.4, 0.5, 0.6, 0.7, 0.8, 0.9, 1]}},
                    "y": {"datum": 0, "type": "quantitative", "axis": {"orient": "right", "labels": false, "title": null, "values": [0, 0.5, 1]}}}}
    ],
    "resolve": {"axis": {"x": "independent", "y": "independent"}}
  },
  {
    "width": 397, "height": 44.5,
    "layer": [
      {"data": {"name": "z"}, "mark": {"type": "line", "strokeWidth": 1.5},
       "encoding": {
         "x": {"field": "t", "type": "quantitative", "scale": {"domain": [0, 1], "nice": false}, "axis": {"values": [0, 0.1, 0.2, 0.3, 0.4, 0.5, 0.6, 0.7, 0.8, 0.9, 1], "format": "~g", "title": null}},
         "y": {"field": "v", "type": "quantitative", "scale": {"domain": [0, 0.285], "nice": false}, "axis": {"values": [0, 0.1, 0.2], "format": "~g", "title": "Z traces"}},
         "color": {"field": "n", "type": "nominal", "scale": {"domain": ["i", "j", "ij"], "range": ["#4a90d2", "#8cc968", "#f4a46e"]}, "legend": null}
       }},
      {"data": {"values": [{}]}, "mark": {"type": "point", "opacity": 0},
       "encoding": {"x": {"datum": 0, "type": "quantitative", "axis": {"orient": "top", "labels": false, "title": null, "values": [0, 0.1, 0.2, 0.3, 0.4, 0.5, 0.6, 0.7, 0.8, 0.9, 1]}},
                    "y": {"datum": 0, "type": "quantitative", "axis": {"orient": "right", "labels": false, "title": null, "values": [0, 0.1, 0.2]}}}}
    ],
    "resolve": {"axis": {"x": "independent", "y": "independent"}}
  },
  {
    "width": 395.7, "height": 44.5,
    "layer": [
      {"data": {"name": "z"}, "mark": {"type": "line", "strokeWidth": 1.5},
       "encoding": {
         "x": {"field": "t", "type": "quantitative", "scale": {"domain": [0, 1], "nice": false}, "axis": {"values": [0, 0.1, 0.2, 0.3, 0.4, 0.5, 0.6, 0.7, 0.8, 0.9, 1], "format": "~g", "title": null}},
         "y": {"field": "v", "type": "quantitative", "scale": {"domain": [0, 0.285], "nice": false}, "axis": {"values": [0, 0.1, 0.2], "format": "~g", "title": "Z traces"}},
         "color": {"field": "n", "type": "nominal", "scale": {"domain": ["i", "j", "ij"], "range": ["#4a90d2", "#8cc968", "#f4a46e"]}, "legend": null}
       }},
      {"data": {"values": [{}]}, "mark": {"type": "point", "opacity": 0},
       "encoding": {"x": {"datum": 0, "type": "quantitative", "axis": {"orient": "top", "labels": false, "title": null, "values": [0, 0.1, 0.2, 0.3, 0.4, 0.5, 0.6, 0.7, 0.8, 0.9, 1]}},
                    "y": {"datum": 0, "type": "quantitative", "axis": {"orient": "right", "labels": false, "title": null, "values": [0, 0.1, 0.2]}}}}
    ],
    "resolve": {"axis": {"x": "independent", "y": "independent"}}
  },
  {
    "width": 397, "height": 44.5,
    "layer": [
      {"data": {"name": "eA"}, "mark": {"type": "line", "strokeWidth": 1.5, "interpolate": "monotone"},
       "encoding": {
         "x": {"field": "t", "type": "quantitative", "scale": {"domain": [0, 1], "nice": false}, "axis": {"values": [0, 0.1, 0.2, 0.3, 0.4, 0.5, 0.6, 0.7, 0.8, 0.9, 1], "format": "~g", "title": null}},
         "y": {"field": "v", "type": "quantitative", "scale": {"domain": [0, 0.211], "nice": false}, "axis": {"values": [0, 0.1, 0.2], "format": "~g", "title": "E traces"}},
         "color": {"field": "n", "type": "nominal", "scale": {"domain": ["i", "j", "ij"], "range": ["#4a90d2", "#8cc968", "#f4a46e"]}, "legend": null}
       }},
      {"data": {"values": [{}]}, "mark": {"type": "point", "opacity": 0},
       "encoding": {"x": {"datum": 0, "type": "quantitative", "axis": {"orient": "top", "labels": false, "title": null, "values": [0, 0.1, 0.2, 0.3, 0.4, 0.5, 0.6, 0.7, 0.8, 0.9, 1]}},
                    "y": {"datum": 0, "type": "quantitative", "axis": {"orient": "right", "labels": false, "title": null, "values": [0, 0.1, 0.2]}}}}
    ],
    "resolve": {"axis": {"x": "independent", "y": "independent"}}
  },
  {
    "width": 395.7, "height": 44.5, "view": {"stroke": null},
    "data": {"values": [{}]},
    "mark": {"type": "point", "opacity": 0}
  },
  {
    "width": 397, "height": 44.5,
    "layer": [
      {"data": {"name": "pA"}, "mark": {"type": "line", "strokeWidth": 1.5, "interpolate": "monotone"},
       "encoding": {
         "x": {"field": "t", "type": "quantitative", "scale": {"domain": [0, 1], "nice": false}, "axis": {"values": [0, 0.1, 0.2, 0.3, 0.4, 0.5, 0.6, 0.7, 0.8, 0.9, 1], "format": "~g", "title": null}},
         "y": {"field": "v", "type": "quantitative", "scale": {"domain": [0, 0.0615], "nice": false}, "axis": {"values": [0, 0.05], "format": "~g", "title": "P traces"}},
         "color": {"field": "n", "type": "nominal", "scale": {"domain": ["i", "j", "ij"], "range": ["#4a90d2", "#8cc968", "#f4a46e"]}, "legend": null}
       }},
      {"data": {"values": [{}]}, "mark": {"type": "point", "opacity": 0},
       "encoding": {"x": {"datum": 0, "type": "quantitative", "axis": {"orient": "top", "labels": false, "title": null, "values": [0, 0.1, 0.2, 0.3, 0.4, 0.5, 0.6, 0.7, 0.8, 0.9, 1]}},
                    "y": {"datum": 0, "type": "quantitative", "axis": {"orient": "right", "labels": false, "title": null, "values": [0, 0.05]}}}}
    ],
    "resolve": {"axis": {"x": "independent", "y": "independent"}}
  },
  {
    "width": 395.7, "height": 44.5,
    "layer": [
      {"data": {"name": "pB"}, "mark": {"type": "line", "strokeWidth": 1.5},
       "encoding": {
         "x": {"field": "t", "type": "quantitative", "scale": {"domain": [0, 1], "nice": false}, "axis": {"values": [0, 0.1, 0.2, 0.3, 0.4, 0.5, 0.6, 0.7, 0.8, 0.9, 1], "format": "~g", "title": null}},
         "y": {"field": "v", "type": "quantitative", "scale": {"domain": [0, 0.0697], "nice": false}, "axis": {"values": [0, 0.05], "format": "~g", "title": "P traces"}},
         "color": {"field": "n", "type": "nominal", "scale": {"domain": ["i", "j", "ij"], "range": ["#4a90d2", "#8cc968", "#f4a46e"]}, "legend": null}
       }},
      {"data": {"values": [{}]}, "mark": {"type": "point", "opacity": 0},
       "encoding": {"x": {"datum": 0, "type": "quantitative", "axis": {"orient": "top", "labels": false, "title": null, "values": [0, 0.1, 0.2, 0.3, 0.4, 0.5, 0.6, 0.7, 0.8, 0.9, 1]}},
                    "y": {"datum": 0, "type": "quantitative", "axis": {"orient": "right", "labels": false, "title": null, "values": [0, 0.05]}}}}
    ],
    "resolve": {"axis": {"x": "independent", "y": "independent"}}
  },
  {
    "width": 397, "height": 44.5,
    "title": {"text": "A", "orient": "bottom", "frame": "group", "anchor": "middle", "dx": -9, "offset": 15, "fontSize": 18, "fontWeight": "bold", "color": "#000000", "font": "Liberation Sans"},
    "layer": [
      {"data": {"name": "wA"}, "mark": {"type": "line", "strokeWidth": 1.5, "interpolate": "monotone", "color": "#f4a46e"},
       "encoding": {
         "x": {"field": "t", "type": "quantitative", "scale": {"domain": [0, 1], "nice": false}, "axis": {"values": [0, 0.1, 0.2, 0.3, 0.4, 0.5, 0.6, 0.7, 0.8, 0.9, 1], "format": "~g", "title": "Time[s]"}},
         "y": {"field": "v", "type": "quantitative", "scale": {"domain": [-2.02, 0.8], "nice": false, "zero": false}, "axis": {"values": [-2, -1, 0], "format": "~g", "title": "Weight"}}
       }},
      {"data": {"values": [{}]}, "mark": {"type": "point", "opacity": 0},
       "encoding": {"x": {"datum": 0, "type": "quantitative", "axis": {"orient": "top", "labels": false, "title": null, "values": [0, 0.1, 0.2, 0.3, 0.4, 0.5, 0.6, 0.7, 0.8, 0.9, 1]}},
                    "y": {"datum": 0, "type": "quantitative", "axis": {"orient": "right", "labels": false, "title": null, "values": [-2, -1, 0]}}}}
    ],
    "resolve": {"axis": {"x": "independent", "y": "independent"}}
  },
  {
    "width": 395.7, "height": 44.5,
    "title": {"text": "B", "orient": "bottom", "frame": "group", "anchor": "middle", "dx": -9, "offset": 15, "fontSize": 18, "fontWeight": "bold", "color": "#000000", "font": "Liberation Sans"},
    "layer": [
      {"data": {"name": "wB"}, "mark": {"type": "line", "strokeWidth": 1.5, "color": "#f4a46e"},
       "encoding": {
         "x": {"field": "t", "type": "quantitative", "scale": {"domain": [0, 1], "nice": false}, "axis": {"values": [0, 0.1, 0.2, 0.3, 0.4, 0.5, 0.6, 0.7, 0.8, 0.9, 1], "format": "~g", "title": "Time[s]"}},
         "y": {"field": "v", "type": "quantitative", "scale": {"domain": [-2.1, 0.9], "nice": false, "zero": false}, "axis": {"values": [-2, -1, 0], "format": "~g", "title": "Weight"}}
       }},
      {"data": {"values": [{}]}, "mark": {"type": "point", "opacity": 0},
       "encoding": {"x": {"datum": 0, "type": "quantitative", "axis": {"orient": "top", "labels": false, "title": null, "values": [0, 0.1, 0.2, 0.3, 0.4, 0.5, 0.6, 0.7, 0.8, 0.9, 1]}},
                    "y": {"datum": 0, "type": "quantitative", "axis": {"orient": "right", "labels": false, "title": null, "values": [-2, -1, 0]}}}}
    ],
    "resolve": {"axis": {"x": "independent", "y": "independent"}}
  }
]
}
